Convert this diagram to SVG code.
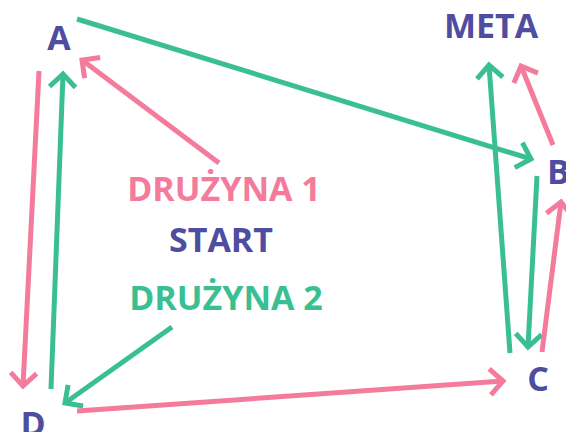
<svg xmlns="http://www.w3.org/2000/svg" width="566" height="432" viewBox="0 0 566 432">
<style>
text{font-family:"Open Sans","DejaVu Sans",sans-serif;font-weight:700;font-size:34px;text-anchor:middle}
.node{fill:#4E4DA0}
.pinkt{fill:#F47B9C}
.greent{fill:#3ABF93}
.p{stroke:#F47B9C;stroke-width:5;fill:none}
.g{stroke:#3ABF93;stroke-width:5;fill:none}
</style>
<defs>
<marker id="mp" markerUnits="userSpaceOnUse" orient="auto" viewBox="-20 -20 40 40" markerWidth="40" markerHeight="40" refX="0" refY="0" overflow="visible">
<path d="M-13,-13 L0,0 L-13,13" fill="none" stroke="#F47B9C" stroke-width="5"/>
</marker>
<marker id="mg" markerUnits="userSpaceOnUse" orient="auto" viewBox="-20 -20 40 40" markerWidth="40" markerHeight="40" refX="0" refY="0" overflow="visible">
<path d="M-13,-13 L0,0 L-13,13" fill="none" stroke="#3ABF93" stroke-width="5"/>
</marker>
</defs>
<rect width="566" height="432" fill="#fff"/>
<g id="connectors">
<line class="g" x1="77" y1="19" x2="531" y2="159" marker-end="url(#mg)"/>
<line class="p" x1="219" y1="163" x2="82" y2="60" marker-end="url(#mp)"/>
<line class="p" x1="39" y1="71" x2="23" y2="386" marker-end="url(#mp)"/>
<line class="g" x1="51" y1="389" x2="63" y2="74" marker-end="url(#mg)"/>
<line class="g" x1="172" y1="327" x2="65" y2="403" marker-end="url(#mg)"/>
<line class="p" x1="77" y1="411" x2="503" y2="381" marker-end="url(#mp)"/>
<line class="g" x1="510" y1="353" x2="489" y2="65" marker-end="url(#mg)"/>
<line class="p" x1="553" y1="145" x2="521" y2="66" marker-end="url(#mp)"/>
<line class="g" x1="537" y1="176" x2="528" y2="347" marker-end="url(#mg)"/>
<line class="p" x1="542" y1="352" x2="561" y2="202" marker-end="url(#mp)"/>
</g>
<g id="node-A"><text class="node" x="59" y="50">A</text></g>
<g id="node-META"><text class="node" x="491" y="38">META</text></g>
<g id="node-B"><text class="node" x="547" y="184" style="text-anchor:start">B</text></g>
<g id="node-C"><text class="node" x="538" y="391">C</text></g>
<g id="node-D"><text class="node" x="33" y="436">D</text></g>
<g id="node-team1"><text class="pinkt" x="224" y="201">DRUŻYNA 1</text></g>
<g id="node-START"><text class="node" x="221" y="252">START</text></g>
<g id="node-team2"><text class="greent" x="226" y="310">DRUŻYNA 2</text></g>
</svg>
